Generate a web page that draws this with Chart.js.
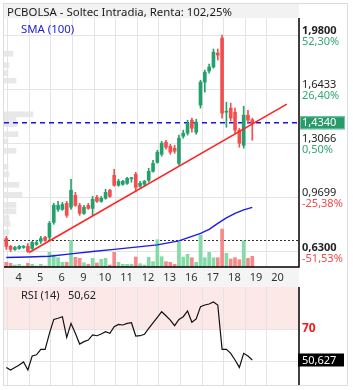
<!DOCTYPE html>
<html>
<head>
<meta charset="utf-8">
<script src="https://cdn.jsdelivr.net/npm/chart.js@4.4.1/dist/chart.umd.min.js"></script>
<style>
  body { margin: 0; background: #fff; font-family: "Noto Sans", sans-serif; }
  #wrap { position: relative; width: 353px; height: 390px; overflow: hidden; }
  canvas { position: absolute; left: 0; }
  #prof, #main { top: 0; }
  #rsi { top: 287px; }
  #frame { position: absolute; left: 3px; top: 3px; width: 345px; height: 383px; border: 1px solid #dcdcdc; box-sizing: border-box; }
  #title { position: absolute; left: 4px; top: 4px; width: 295px; height: 14px; background: #f2f2f2; color: #1a1a1a; font-size: 11.4px; line-height: 16px; padding-left: 3px; box-sizing: border-box; white-space: nowrap; }
  .lbl { position: absolute; font-size: 11px; line-height: 14px; white-space: nowrap; }
</style>
</head>
<body>
<div id="wrap">
  <canvas id="prof" width="353" height="287"></canvas>
  <canvas id="main" width="353" height="287"></canvas>
  <canvas id="rsi" width="353" height="103"></canvas>
  <div id="frame"></div>
  <div id="title">PCBOLSA - Soltec Intradia, Renta: 102,25%</div>
  <div class="lbl" style="left:21px;top:22px;color:#2020dd;font-size:11.4px">SMA (100)</div>
  <div class="lbl" style="left:21px;top:288px;color:#222">RSI (14)</div>
  <div class="lbl" style="left:68px;top:288px;color:#222">50,62</div>
</div>
<script>
// day labels on the time axis, first day edge and candles per day
const dayLabels = ["4", "5", "6", "9", "10", "11", "12", "13", "16", "17", "18", "19", "20"];
const firstEdge = 0.35;
const perDay = 5;

// candles
const open = [0.714, 0.665, 0.646, 0.652, 0.658, 0.665, 0.652, 0.677, 0.696, 0.721,
    0.721, 0.814, 0.895, 0.895, 0.933, 0.908, 0.983, 0.920, 0.870, 0.920,
    0.901, 0.970, 0.945, 0.964, 1.014, 1.107, 1.045, 1.051, 1.057, 1.085,
    1.113, 1.039, 1.051, 1.076, 1.132, 1.188, 1.238, 1.313, 1.288, 1.276,
    1.182, 1.350, 1.369, 1.450, 1.375, 1.544, 1.687, 1.756, 1.781, 1.868,
    1.961, 1.500, 1.525, 1.500, 1.388, 1.294, 1.481, 1.453];
const high = [0.727, 0.671, 0.665, 0.671, 0.671, 0.683, 0.696, 0.702, 0.727, 0.727,
    0.820, 0.933, 0.945, 0.939, 0.945, 1.082, 1.001, 0.933, 0.920, 0.933,
    0.976, 0.983, 0.976, 1.020, 1.020, 1.145, 1.082, 1.076, 1.095, 1.095,
    1.126, 1.070, 1.076, 1.151, 1.201, 1.263, 1.319, 1.325, 1.300, 1.294,
    1.357, 1.388, 1.450, 1.463, 1.456, 1.699, 1.762, 1.799, 1.893, 1.893,
    1.980, 1.562, 1.556, 1.525, 1.400, 1.537, 1.512, 1.463];
const low = [0.646, 0.633, 0.640, 0.646, 0.652, 0.627, 0.646, 0.671, 0.683, 0.696,
    0.702, 0.802, 0.883, 0.889, 0.845, 0.895, 0.914, 0.858, 0.864, 0.895,
    0.858, 0.939, 0.939, 0.958, 0.970, 1.039, 1.039, 1.045, 1.051, 1.064,
    1.007, 1.032, 1.039, 1.064, 1.126, 1.182, 1.226, 1.269, 1.238, 1.244,
    1.170, 1.338, 1.357, 1.375, 1.363, 1.525, 1.625, 1.743, 1.774, 1.824,
    1.463, 1.406, 1.444, 1.369, 1.282, 1.276, 1.431, 1.325];
const close = [0.665, 0.646, 0.658, 0.665, 0.665, 0.633, 0.689, 0.689, 0.714, 0.702,
    0.808, 0.920, 0.920, 0.926, 0.858, 1.014, 0.920, 0.870, 0.908, 0.901,
    0.958, 0.945, 0.964, 1.001, 0.976, 1.045, 1.070, 1.070, 1.088, 1.092,
    1.032, 1.057, 1.070, 1.132, 1.182, 1.251, 1.307, 1.282, 1.251, 1.257,
    1.338, 1.369, 1.431, 1.400, 1.438, 1.687, 1.749, 1.781, 1.874, 1.855,
    1.494, 1.506, 1.463, 1.388, 1.307, 1.481, 1.450, 1.434];

// volume (thousands)
const volume = [47, 37, 20, 27, 10, 37, 27, 10, 27, 10,
    147, 120, 93, 47, 47, 267, 97, 87, 43, 27,
    87, 40, 77, 87, 20, 147, 47, 27, 27, 27,
    100, 33, 20, 97, 53, 273, 103, 53, 47, 27,
    247, 100, 127, 93, 47, 320, 93, 147, 93, 93,
    380, 137, 80, 93, 73, 260, 87, 107];

// SMA (100), read at a few candles
const smaAt = [0, 5, 10, 15, 20, 25, 30, 35, 40, 43, 45, 47, 49, 51, 53, 55, 57];
const smaVal = [0.596, 0.599, 0.603, 0.618, 0.633, 0.646, 0.660, 0.674, 0.699, 0.727,
    0.746, 0.771, 0.808, 0.842, 0.870, 0.892, 0.908];

// trend line
const trendAt = [5.3, 65.0];
const trendVal = [0.627, 1.550];

// volume by price on the left
const profPrice = [1.864, 1.793, 1.743, 1.696, 1.487, 1.456, 1.425, 1.363, 1.319, 1.260,
    1.160, 1.113, 1.048, 0.986, 0.923, 0.883, 0.842, 0.805, 0.752];
const profVol = [9, 5, 4, 12, 29, 12, 13, 14, 4, 12, 4, 5, 15, 18, 12, 12, 5, 6, 5];

// price axis
const priceTicks = [1.98, 1.6433, 1.3066, 0.9699, 0.63];
const pctLabels = ["52,30%", "26,40%", "0,50%", "-25,38%", "-51,53%"];
const lastPrice = 1.434;
const refPrice = 0.705;
const priceMin = 0.5365;
const priceMax = 2.086;

// RSI (14)
const rsi = [46.0, 44.4, 46.0, 47.5, 49.4, 44.4, 53.1, 53.9, 57.3, 57.3,
    67.3, 76.0, 76.7, 77.7, 64.8, 73.5, 67.3, 60.6, 62.1, 63.1,
    66.3, 65.8, 66.9, 68.3, 67.3, 71.5, 72.9, 72.5, 73.5, 73.9,
    65.6, 65.8, 66.7, 70.4, 73.9, 77.3, 80.8, 78.3, 75.6, 72.1,
    76.0, 77.7, 81.3, 74.2, 76.3, 84.0, 85.0, 85.6, 86.9, 85.0,
    57.3, 57.3, 54.8, 50.6, 46.0, 54.8, 53.1, 50.63];
const rsiLevels = [50, 70];

const GREEN = "#25a06d";
const RED = "#f24f4f";
const idx = close.map((c, i) => i);
const upDown = idx.map((i) => (close[i] >= open[i] ? GREEN : RED));
const volColors = idx.map((i) => (close[i] >= open[i] ? "#84dba8" : "#f48a8a"));
const dayEdges = dayLabels.map((d, k) => firstEdge + k * perDay);
const xMin = -0.53;
const xMax = 67.82;
const mainPadding = { left: 4, top: 18, right: 54, bottom: 20 };

const fmt = (v, d) => v.toFixed(d).replace(".", ",");

const xAxis = {
    type: "linear",
    min: xMin,
    max: xMax,
    offset: false,
    ticks: { display: false },
    grid: { color: "#e4e4e4", drawTicks: false, offset: false },
    border: { display: false },
    afterBuildTicks: (axis) => {
        axis.ticks = dayEdges.map((v) => ({ value: v }));
    },
};

// volume-by-price bars sit on their own canvas under the main chart
new Chart(document.getElementById("prof"), {
    type: "bar",
    data: {
        datasets: [
            {
                data: profPrice.map((p, k) => ({ x: profVol[k], y: p })),
                backgroundColor: "#e8e8e8",
                barThickness: 5,
            },
        ],
    },
    options: {
        indexAxis: "y",
        responsive: false,
        animation: false,
        devicePixelRatio: 1,
        layout: { padding: mainPadding },
        plugins: { legend: { display: false }, tooltip: { enabled: false } },
        scales: {
            x: { type: "linear", display: false, min: 0, max: 295 },
            y: { type: "linear", display: false, min: priceMin, max: priceMax, offset: false },
        },
    },
});

const mainDecor = {
    id: "mainDecor",
    beforeDatasetsDraw: (chart) => {
        const ctx = chart.ctx;
        const area = chart.chartArea;
        const y = chart.scales.y;
        ctx.save();
        // last price
        ctx.setLineDash([5, 4]);
        ctx.strokeStyle = "#1414e6";
        ctx.lineWidth = 1.3;
        ctx.beginPath();
        ctx.moveTo(area.left, y.getPixelForValue(lastPrice));
        ctx.lineTo(area.right, y.getPixelForValue(lastPrice));
        ctx.stroke();
        // reference price
        ctx.setLineDash([2, 2]);
        ctx.strokeStyle = "#333";
        ctx.lineWidth = 1;
        ctx.beginPath();
        ctx.moveTo(area.left, Math.round(y.getPixelForValue(refPrice)) + 0.5);
        ctx.lineTo(area.right, Math.round(y.getPixelForValue(refPrice)) + 0.5);
        ctx.stroke();
        ctx.restore();
    },
    afterDraw: (chart) => {
        const ctx = chart.ctx;
        const area = chart.chartArea;
        const x = chart.scales.x;
        const y = chart.scales.y;
        ctx.save();

        // time labels strip
        ctx.fillStyle = "#f4f4f4";
        ctx.fillRect(area.left, area.bottom, area.right - area.left, 20);
        ctx.font = "11px 'Noto Sans'";
        ctx.fillStyle = "#333";
        ctx.textAlign = "center";
        ctx.textBaseline = "middle";
        dayLabels.forEach((d, k) => {
            ctx.fillText(d, x.getPixelForValue(dayEdges[k] + perDay / 2), area.bottom + 11);
        });

        // axis lines
        ctx.strokeStyle = "#000";
        ctx.lineWidth = 1.5;
        ctx.beginPath();
        ctx.moveTo(area.right, area.top);
        ctx.lineTo(area.right, area.bottom);
        ctx.lineTo(area.left, area.bottom);
        ctx.stroke();

        // price labels
        ctx.textAlign = "left";
        priceTicks.forEach((v, k) => {
            const py = y.getPixelForValue(v);
            const edge = k === 0 || k === priceTicks.length - 1;
            ctx.font = (edge ? "bold " : "") + "11px 'Noto Sans'";
            ctx.fillStyle = "#222";
            ctx.fillText(fmt(v, 4), area.right + 3, py - 4.5);
            ctx.font = "11px 'Noto Sans'";
            ctx.fillStyle = pctLabels[k].startsWith("-") ? "#f04848" : "#32a874";
            ctx.fillText(pctLabels[k], area.right + 3, py + 6.5);
        });

        // last price badge
        const ly = y.getPixelForValue(lastPrice);
        ctx.fillStyle = "#2a9a6b";
        ctx.fillRect(area.right + 1, ly - 6.5, 45, 13);
        ctx.strokeStyle = "#6cc79f";
        ctx.lineWidth = 1;
        ctx.strokeRect(area.right + 1.5, ly - 6, 44, 12);
        ctx.font = "11px 'Noto Sans'";
        ctx.fillStyle = "#fff";
        ctx.fillText(fmt(lastPrice, 4), area.right + 3, ly + 0.5);
        ctx.restore();
    },
};

new Chart(document.getElementById("main"), {
    type: "bar",
    data: {
        datasets: [
            {
                type: "line",
                data: smaAt.map((v, k) => ({ x: v, y: smaVal[k] })),
                borderColor: "#1c1ce6",
                borderWidth: 1.4,
                pointRadius: 0,
                order: 1,
            },
            {
                type: "line",
                data: trendAt.map((v, k) => ({ x: v, y: trendVal[k] })),
                borderColor: "#ff2424",
                borderWidth: 1.6,
                pointRadius: 0,
                order: 1,
            },
            {
                data: idx.map((i) => ({ x: i, y: [low[i], high[i]] })),
                backgroundColor: upDown,
                barThickness: 1,
                grouped: false,
                order: 2,
            },
            {
                data: idx.map((i) => ({ x: i, y: [open[i], close[i]] })),
                backgroundColor: upDown,
                barThickness: 3,
                minBarLength: 1,
                grouped: false,
                order: 2,
            },
            {
                data: idx.map((i) => ({ x: i, y: volume[i] })),
                yAxisID: "yv",
                backgroundColor: volColors,
                barThickness: 3,
                grouped: false,
                order: 5,
            },
        ],
    },
    options: {
        responsive: false,
        animation: false,
        devicePixelRatio: 1,
        layout: { padding: mainPadding },
        plugins: { legend: { display: false }, tooltip: { enabled: false } },
        scales: {
            x: xAxis,
            y: {
                type: "linear",
                position: "right",
                min: priceMin,
                max: priceMax,
                offset: false,
                ticks: { display: false },
                grid: { color: "#e4e4e4", drawTicks: false },
                border: { display: false },
                afterBuildTicks: (axis) => {
                    axis.ticks = priceTicks.map((v) => ({ value: v }));
                },
            },
            yv: { type: "linear", display: false, min: 0, max: 2490 },
        },
    },
    plugins: [mainDecor],
});

const rsiDecor = {
    id: "rsiDecor",
    beforeDraw: (chart) => {
        const ctx = chart.ctx;
        const area = chart.chartArea;
        const y = chart.scales.y;
        ctx.save();
        ctx.fillStyle = "#fde8e8";
        ctx.fillRect(area.left, area.top, area.right - area.left, y.getPixelForValue(70) - area.top);
        ctx.restore();
    },
    afterDraw: (chart) => {
        const ctx = chart.ctx;
        const area = chart.chartArea;
        const y = chart.scales.y;
        ctx.save();
        ctx.strokeStyle = "#000";
        ctx.lineWidth = 1.5;
        ctx.beginPath();
        ctx.moveTo(area.right, 0);
        ctx.lineTo(area.right, area.bottom);
        ctx.stroke();

        ctx.textAlign = "left";
        ctx.textBaseline = "middle";
        ctx.font = "bold 12px 'Noto Sans'";
        ctx.fillStyle = "#f01c1c";
        ctx.fillText("70", area.right + 3, y.getPixelForValue(70));

        const last = rsi[rsi.length - 1];
        const ly = y.getPixelForValue(last);
        ctx.fillStyle = "#000";
        ctx.fillRect(area.right - 1, ly - 6.5, 46, 13);
        ctx.font = "11px 'Noto Sans'";
        ctx.fillStyle = "#fff";
        ctx.fillText("50,627", area.right + 3, ly + 0.5);
        ctx.restore();
    },
};

new Chart(document.getElementById("rsi"), {
    type: "line",
    data: {
        datasets: [
            {
                data: rsi.map((v, i) => ({ x: i, y: v })),
                borderColor: "#111",
                borderWidth: 1.2,
                pointRadius: 0,
            },
        ],
    },
    options: {
        responsive: false,
        animation: false,
        devicePixelRatio: 1,
        layout: { padding: { left: 4, top: 0, right: 54, bottom: 5 } },
        plugins: { legend: { display: false }, tooltip: { enabled: false } },
        scales: {
            x: xAxis,
            y: {
                type: "linear",
                position: "right",
                min: 35,
                max: 96.25,
                ticks: { display: false },
                grid: { color: "#e4e4e4", drawTicks: false },
                border: { display: false },
                afterBuildTicks: (axis) => {
                    axis.ticks = rsiLevels.map((v) => ({ value: v }));
                },
            },
        },
    },
    plugins: [rsiDecor],
});
</script>
</body>
</html>
